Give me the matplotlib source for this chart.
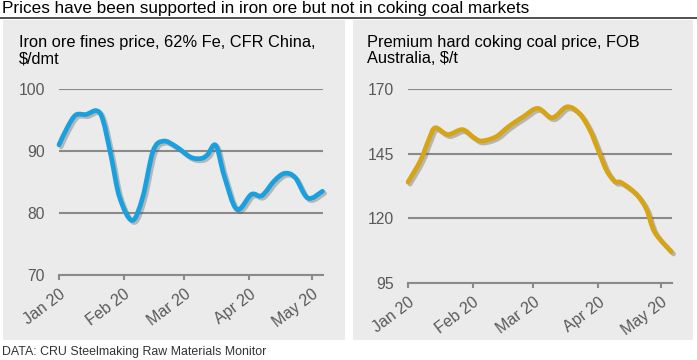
import matplotlib
matplotlib.use("Agg")
import matplotlib.pyplot as plt
import matplotlib.dates as mdates
import matplotlib.patheffects as pe
from matplotlib.path import Path
from matplotlib.patches import PathPatch, Rectangle
from matplotlib.lines import Line2D
import numpy as np
import pandas as pd

plt.rcParams['font.family'] = ['Liberation Sans', 'DejaVu Sans']

title = "Prices have been supported in iron ore but not in coking coal markets"
source = "DATA: CRU Steelmaking Raw Materials Monitor"

iron_title = "Iron ore fines price, 62% Fe, CFR China,\n$/dmt"
iron_dates = ["2020-01-01", "2020-01-05", "2020-01-09", "2020-01-14", "2020-01-19",
              "2020-01-22", "2020-01-26", "2020-01-30", "2020-02-05", "2020-02-10",
              "2020-02-15", "2020-02-20", "2020-02-26", "2020-03-04", "2020-03-09",
              "2020-03-12", "2020-03-16", "2020-03-20", "2020-03-26", "2020-04-02",
              "2020-04-07", "2020-04-13", "2020-04-18", "2020-04-23", "2020-04-29",
              "2020-05-06"]
iron_values = [91.0, 93.8, 95.8, 95.9, 96.5, 95.0, 89.0, 82.5, 78.8, 82.5,
               90.0, 91.6, 90.7, 89.0, 88.8, 89.4, 90.9, 86.0, 80.6, 83.0,
               82.8, 85.2, 86.4, 85.7, 82.4, 83.5]
iron_yticks = [70, 80, 90, 100]

coal_title = "Premium hard coking coal price, FOB\nAustralia, $/t"
coal_dates = ["2020-01-01", "2020-01-07", "2020-01-11", "2020-01-14", "2020-01-20",
              "2020-01-27", "2020-02-01", "2020-02-05", "2020-02-12", "2020-02-18",
              "2020-02-25", "2020-03-03", "2020-03-10", "2020-03-17", "2020-03-23",
              "2020-03-28", "2020-04-01", "2020-04-05", "2020-04-09", "2020-04-12",
              "2020-04-19", "2020-04-24", "2020-04-28", "2020-05-06"]
coal_values = [134.0, 142.4, 150.5, 155.0, 152.4, 154.3, 151.5, 149.9, 151.5, 155.4,
               159.2, 162.5, 158.9, 163.1, 160.5, 154.1, 146.3, 138.5, 134.2, 133.8,
               129.5, 123.6, 114.6, 107.0]
coal_yticks = [95, 120, 145, 170]

xtick_dates = ["2020-01-01", "2020-02-01", "2020-03-01", "2020-04-01", "2020-05-01"]
xtick_labels = ["Jan 20", "Feb 20", "Mar 20", "Apr 20", "May 20"]

W, H = 697, 360
fig = plt.figure(figsize=(W / 100, H / 100), dpi=100)

def px_rect(x0, y0, x1, y1):
    return [x0 / W, 1 - y1 / H, (x1 - x0) / W, (y1 - y0) / H]

# panel backgrounds
for (x0, x1) in [(3, 345), (353, 693)]:
    r = px_rect(x0, 20, x1, 340)
    fig.patches.append(Rectangle((r[0], r[1]), r[2], r[3], transform=fig.transFigure,
                                 facecolor="#EBEBEB", edgecolor="none", zorder=-5))

fig.text(2 / W, 1 - 8 / H, title, fontsize=12.3, va="center", ha="left", color="black")
fig.add_artist(Line2D([0, 1], [1 - 17.5 / H, 1 - 17.5 / H], transform=fig.transFigure,
                      color="#333333", lw=1.2))
fig.text(2 / W, 1 - 352 / H, source, fontsize=8.9, va="center", ha="left", color="#333333")

grid_c = "#8A8A8A"
txt_c = "#595959"

def smooth_path(x, y):
    x = np.asarray(x, float)
    y = np.asarray(y, float)
    verts = [(x[0], y[0])]
    codes = [Path.MOVETO]
    n = len(x)
    for i in range(n - 1):
        p0 = np.array([x[max(i - 1, 0)], y[max(i - 1, 0)]])
        p1 = np.array([x[i], y[i]])
        p2 = np.array([x[i + 1], y[i + 1]])
        p3 = np.array([x[min(i + 2, n - 1)], y[min(i + 2, n - 1)]])
        c1 = p1 + (p2 - p0) / 6.0
        c2 = p2 - (p3 - p1) / 6.0
        verts += [tuple(c1), tuple(c2), tuple(p2)]
        codes += [Path.CURVE4] * 3
    return Path(verts, codes)

def panel(rect_px, ptitle, title_xy, dates, values, yticks, color):
    ax = fig.add_axes(px_rect(*rect_px))
    ax.set_zorder(2)
    ax.set_facecolor("none")
    d = mdates.date2num(pd.to_datetime(dates))
    ax.set_xlim(mdates.date2num(pd.Timestamp("2020-01-01")),
                mdates.date2num(pd.Timestamp("2020-05-06 06:00")))
    ax.set_ylim(yticks[0], yticks[-1])
    for s in ["top", "right", "left"]:
        ax.spines[s].set_visible(False)
    ax.spines["bottom"].set_color(grid_c)
    ax.spines["bottom"].set_linewidth(1.5)
    ax.set_yticks(yticks)
    ax.set_yticklabels([str(t) for t in yticks])
    ax.yaxis.grid(True, color=grid_c, lw=1.5)
    ax.set_axisbelow(True)
    ax.tick_params(axis="y", length=0, pad=10, labelsize=11.3, labelcolor=txt_c)
    xt = mdates.date2num(pd.to_datetime(xtick_dates))
    ax.set_xticks(xt)
    ax.set_xticklabels(xtick_labels, rotation=37, ha="right", rotation_mode="anchor")
    ax.tick_params(axis="x", direction="out", length=3.5, width=1.5, color=grid_c,
                   pad=5, labelsize=11.5, labelcolor=txt_c)
    path = smooth_path(d, values)
    patch = PathPatch(path, facecolor="none", edgecolor=color, lw=3.4,
                      capstyle="round", joinstyle="round", clip_on=False, zorder=3,
                      path_effects=[pe.SimpleLineShadow(offset=(1.5, -1.5), shadow_color="#555555",
                                                        alpha=0.35, rho=1.0),
                                    pe.Normal()])
    ax.add_patch(patch)
    fig.text(title_xy[0] / W, 1 - title_xy[1] / H, ptitle, fontsize=11.75, va="top",
             ha="left", color="black", linespacing=1.12)
    return ax

panel((59, 89, 323, 275), iron_title, (19, 35), iron_dates, iron_values, iron_yticks, "#1AA0DE")
panel((408, 89, 672, 283), coal_title, (367, 35), coal_dates, coal_values, coal_yticks, "#D6A516")

fig.savefig("out.png", dpi=100)
